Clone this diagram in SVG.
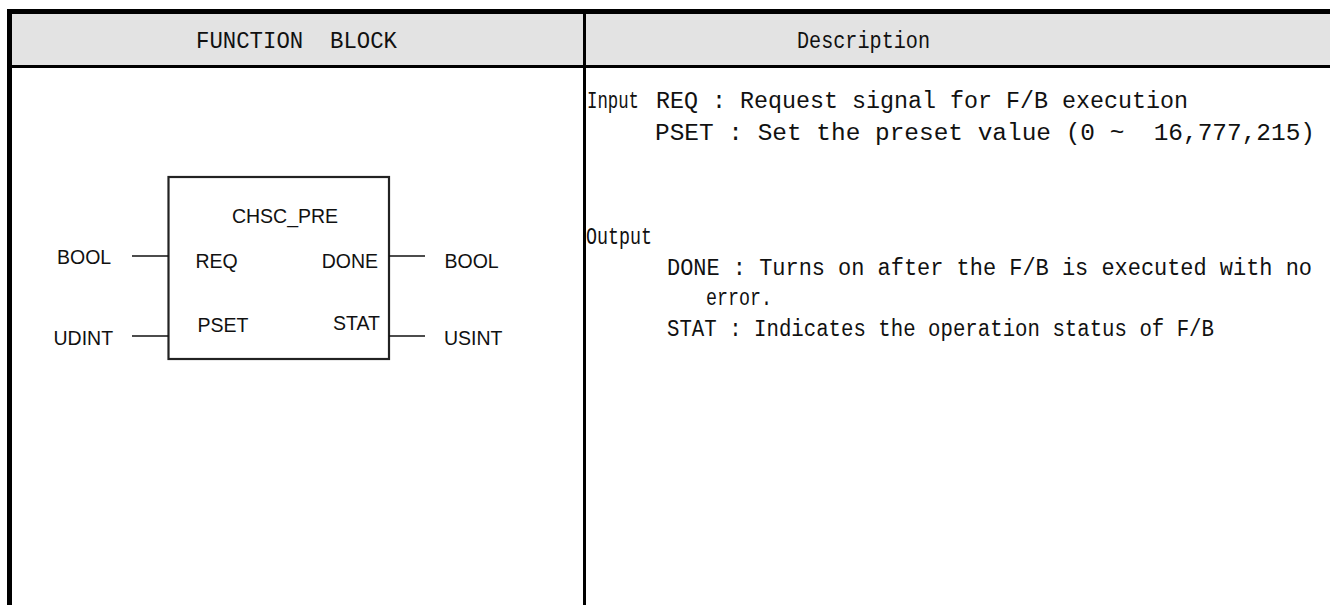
<svg xmlns="http://www.w3.org/2000/svg" width="1330" height="605" viewBox="0 0 1330 605">
  <style>
    .rule { fill: #000; }
    .hdr { fill: #e3e3e3; }
    .cond { font-family: "Liberation Mono", "DejaVu Sans Mono", monospace; font-size: 23px; fill: #111; white-space: pre; }
    .fb { font-family: "Liberation Sans", Arial, sans-serif; font-size: 19.5px; fill: #111; }
    .pin { stroke: #111; stroke-width: 1.6; fill: none; }
    .body { stroke: #222; stroke-width: 2.2; fill: #fff; }
  </style>

  <rect width="1330" height="605" fill="#fff"/>

  <!-- table frame -->
  <g id="table">
    <rect class="hdr" x="12" y="14" width="1318" height="51"/>
    <rect class="rule" x="7" y="9" width="1323" height="5"/>
    <rect class="rule" x="7" y="9" width="5" height="596"/>
    <rect class="rule" x="7" y="65" width="1323" height="3"/>
    <rect class="rule" x="583" y="9" width="3" height="596"/>
    <text class="cond" x="196" y="48" textLength="201" lengthAdjust="spacingAndGlyphs">FUNCTION  BLOCK</text>
    <text class="cond" x="797" y="48" textLength="133" lengthAdjust="spacingAndGlyphs">Description</text>
  </g>

  <!-- function block symbol -->
  <g id="fb-chsc-pre">
    <rect class="body" x="168.5" y="177" width="220.5" height="182"/>
    <text class="fb" x="285" y="223" text-anchor="middle">CHSC_PRE</text>
    <text class="fb" x="195.5" y="268">REQ</text>
    <text class="fb" x="197.5" y="332">PSET</text>
    <text class="fb" x="378" y="268" text-anchor="end">DONE</text>
    <text class="fb" x="380" y="330" text-anchor="end">STAT</text>
  </g>

  <!-- pin connectors -->
  <g id="connectors">
    <line class="pin" x1="132" y1="256" x2="168.5" y2="256"/>
    <line class="pin" x1="132" y1="336" x2="168.5" y2="336"/>
    <line class="pin" x1="389" y1="256" x2="425" y2="256"/>
    <line class="pin" x1="389" y1="336" x2="425" y2="336"/>
  </g>

  <!-- data types -->
  <g id="types">
    <text class="fb" x="57" y="264">BOOL</text>
    <text class="fb" x="53.5" y="344.5">UDINT</text>
    <text class="fb" x="444.5" y="268">BOOL</text>
    <text class="fb" x="444" y="344.5">USINT</text>
  </g>

  <!-- description column -->
  <g id="description">
    <text class="cond" x="587" y="108" textLength="52" lengthAdjust="spacingAndGlyphs">Input</text>
    <text class="cond" x="656" y="108" textLength="532" lengthAdjust="spacingAndGlyphs">REQ : Request signal for F/B execution</text>
    <text class="cond" x="655" y="140" textLength="660" lengthAdjust="spacingAndGlyphs">PSET : Set the preset value (0 ~  16,777,215)</text>
    <text class="cond" x="586" y="244" textLength="66" lengthAdjust="spacingAndGlyphs">Output</text>
    <text class="cond" x="667" y="275" textLength="645" lengthAdjust="spacingAndGlyphs">DONE : Turns on after the F/B is executed with no</text>
    <text class="cond" x="706" y="305" textLength="66" lengthAdjust="spacingAndGlyphs">error.</text>
    <text class="cond" x="667" y="336" textLength="547" lengthAdjust="spacingAndGlyphs">STAT : Indicates the operation status of F/B</text>
  </g>
</svg>
